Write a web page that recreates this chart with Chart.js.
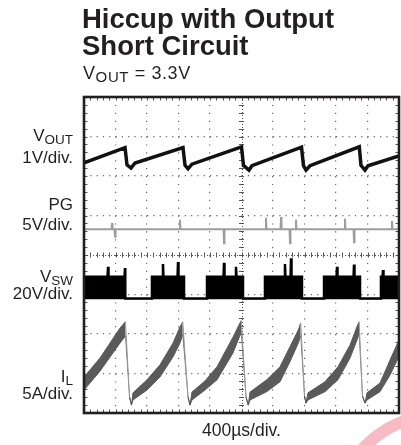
<!DOCTYPE html>
<html>
<head>
<meta charset="utf-8">
<script src="https://cdn.jsdelivr.net/npm/chart.js@4"></script>
<style>
  body { margin: 0; background: #fff; }
  #wrap { position: relative; width: 401px; height: 445px; overflow: hidden;
          font-family: "Liberation Sans", Arial, sans-serif; color: #231f20; }
  #scope { position: absolute; left: 0; top: 0; }
  .title { position: absolute; left: 82px; top: 5px; font-size: 27.5px; font-weight: bold;
           line-height: 27px; white-space: nowrap; }
  .sub { position: absolute; left: 83px; top: 63px; font-size: 18px; line-height: 20px;
         letter-spacing: 0.6px; white-space: nowrap; }
  .lbl { position: absolute; right: 328px; text-align: right; font-size: 17px; line-height: 20px; white-space: nowrap; }
  .lbl span { font-size: 13.5px; position: relative; top: 3px; }
  .sub span { font-size: 15px; position: relative; top: 3px; }
</style>
</head>
<body>
<div id="wrap">
  <canvas id="scope" width="401" height="445"></canvas>
  <div class="title">Hiccup with Output<br>Short Circuit</div>
  <div class="sub">V<span>OUT</span> = 3.3V</div>
  <div class="lbl" style="top:125.6px">V<span>OUT</span></div>
  <div class="lbl" style="top:147.6px">1V/div.</div>
  <div class="lbl" style="top:195.1px">PG</div>
  <div class="lbl" style="top:215.1px">5V/div.</div>
  <div class="lbl" style="top:267.1px">V<span>SW</span></div>
  <div class="lbl" style="top:283.6px">20V/div.</div>
  <div class="lbl" style="top:367.4px">I<span>L</span></div>
  <div class="lbl" style="top:383.6px">5A/div.</div>
</div>
<script>
// time in µs (10 div x 400µs), levels in screen divisions (0 = bottom, 8 = top)

// VOUT - hiccup sawtooth
const voutTime = [0, 521, 546, 597, 648, 1257, 1283, 1321, 1371, 2000, 2025, 2095, 2133,
  2762, 2787, 2819, 2870, 3496, 3517, 3568, 3606, 4000];
const voutLevel = [6.33, 6.72, 6.28, 6.20, 6.33, 6.72, 6.27, 6.18, 6.30, 6.74, 6.27, 6.15, 6.26,
  6.73, 6.26, 6.15, 6.26, 6.74, 6.27, 6.15, 6.26, 6.51];

// PG - flat with glitches
const pgTime = [0, 350, 356, 362, 388, 394, 400, 1213, 1219, 1225, 1772, 1778, 1784,
  2305, 2311, 2317, 2496, 2502, 2508, 2610, 2616, 2622, 2686, 2692, 2698,
  3308, 3314, 3320, 3423, 3429, 3435, 3905, 3911, 3917, 4000];
const pgLevel = [4.65, 4.65, 4.81, 4.65, 4.65, 4.46, 4.65, 4.65, 4.89, 4.65, 4.65, 4.30, 4.65,
  4.65, 4.94, 4.65, 4.65, 4.96, 4.65, 4.65, 4.30, 4.65, 4.65, 4.89, 4.65,
  4.65, 4.92, 4.65, 4.65, 4.32, 4.65, 4.65, 4.86, 4.65, 4.65];

// VSW - switching bursts (envelope)
const vswTime = [0, 299, 305, 311, 515, 521, 524, 863, 863, 997, 1003, 1009, 1188, 1194, 1200,
  1270, 1270, 1562, 1562, 1772, 1778, 1784, 1924, 1930, 1936, 2019, 2019,
  2298, 2298, 2546, 2552, 2558, 2623, 2629, 2635, 2768, 2768,
  3048, 3048, 3207, 3213, 3219, 3423, 3429, 3435, 3505, 3505,
  3771, 3771, 3791, 3797, 3803, 4000];
const vswLevel = [3.45, 3.45, 3.70, 3.45, 3.45, 3.67, 2.90, 2.90, 3.45, 3.45, 3.77, 3.45, 3.45, 3.82, 3.45,
  3.45, 2.90, 2.90, 3.45, 3.45, 3.80, 3.45, 3.45, 3.70, 3.45, 3.45, 2.90,
  2.90, 3.45, 3.45, 3.77, 3.45, 3.45, 3.92, 3.45, 3.45, 2.90,
  2.90, 3.45, 3.45, 3.70, 3.45, 3.45, 3.76, 3.45, 3.45, 2.90,
  2.90, 3.45, 3.45, 3.62, 3.45, 3.45];
const vswBase = 2.88;

// IL - inductor current band (upper / lower edge)
const ilTime = [0, 203, 457, 526, 578, 603, 622, 800, 965, 1130, 1219, 1254,
  1321, 1346, 1371, 1536, 1689, 1892, 1968, 1997,
  2057, 2086, 2108, 2320, 2489, 2616, 2721, 2752,
  2800, 2819, 2844, 3060, 3225, 3378, 3467, 3494,
  3536, 3568, 3594, 3759, 3886, 4000];
const ilHigh = [0.91, 1.39, 2.15, 2.31, 0.41, 0.20, 0.51, 0.84, 1.22, 1.77, 2.18, 2.31,
  0.41, 0.20, 0.53, 0.81, 1.17, 1.92, 2.23, 2.34,
  0.41, 0.20, 0.53, 0.84, 1.17, 1.68, 2.10, 2.28,
  0.43, 0.25, 0.51, 0.79, 1.17, 1.72, 2.19, 2.31,
  0.43, 0.25, 0.51, 0.76, 1.34, 1.85];
const ilLow = [0.58, 1.06, 1.77, 1.95, 0.41, 0.20, 0.33, 0.58, 0.91, 1.42, 1.77, 1.98,
  0.41, 0.20, 0.33, 0.58, 0.84, 1.52, 1.90, 2.03,
  0.41, 0.20, 0.33, 0.54, 0.79, 1.30, 1.77, 1.95,
  0.43, 0.25, 0.33, 0.54, 0.84, 1.39, 1.85, 2.00,
  0.43, 0.25, 0.33, 0.54, 0.96, 1.43];

function pts(xs, ys) {
  return xs.map((t, i) => ({ x: t, y: ys[i] }));
}

// falling edges of IL are a thin light trace
const dropColor = ctx => (ctx.p1.parsed.y < ctx.p0.parsed.y - 0.3 ? "#9a9a9a" : undefined);

const scopeFrame = {
  id: "scopeFrame",
  beforeDraw(chart) {
    // pale logo swoosh, bottom right
    const ctx = chart.ctx;
    ctx.save();
    ctx.strokeStyle = "#f7bcc3";
    ctx.lineWidth = 12;
    ctx.beginPath();
    ctx.arc(440, 520, 105, Math.PI * 1.05, Math.PI * 1.5);
    ctx.stroke();
    ctx.restore();
  },
  beforeDatasetsDraw(chart) {
    const { ctx, chartArea: a, scales: { x, y } } = chart;
    const cx = x.getPixelForValue(2000);
    const cy = y.getPixelForValue(4);
    ctx.save();
    ctx.strokeStyle = "#555";
    ctx.lineWidth = 1;
    ctx.setLineDash([1, 2]);
    ctx.beginPath();
    ctx.moveTo(Math.round(cx) + 0.5, a.top);
    ctx.lineTo(Math.round(cx) + 0.5, a.bottom);
    ctx.moveTo(a.left, Math.round(cy) + 0.5);
    ctx.lineTo(a.right, Math.round(cy) + 0.5);
    ctx.stroke();
    ctx.setLineDash([]);
    ctx.beginPath();
    for (let t = 0; t <= 4000; t += 80) {
      const px = Math.round(x.getPixelForValue(t)) + 0.5;
      ctx.moveTo(px, cy - 2.5); ctx.lineTo(px, cy + 2.5);
      ctx.moveTo(px, a.top); ctx.lineTo(px, a.top + 3.5);
      ctx.moveTo(px, a.bottom); ctx.lineTo(px, a.bottom - 3.5);
    }
    for (let k = 0; k <= 40; k++) {
      const py = Math.round(y.getPixelForValue(k / 5)) + 0.5;
      ctx.moveTo(cx - 2.5, py); ctx.lineTo(cx + 2.5, py);
      ctx.moveTo(a.left, py); ctx.lineTo(a.left + 3.5, py);
      ctx.moveTo(a.right, py); ctx.lineTo(a.right - 3.5, py);
    }
    ctx.stroke();
    ctx.restore();
  },
  afterDatasetsDraw(chart) {
    const { ctx, chartArea: a } = chart;
    ctx.save();
    ctx.strokeStyle = "#231f20";
    ctx.lineWidth = 2.6;
    ctx.strokeRect(a.left, a.top, a.right - a.left, a.bottom - a.top);
    ctx.restore();
  },
};

const ctx = document.getElementById("scope");

new Chart(ctx, {
  type: "line",
  data: {
    datasets: [
      {
        label: "VOUT",
        data: pts(voutTime, voutLevel),
        borderColor: "#111",
        borderWidth: 3.5,
      },
      {
        label: "PG",
        data: pts(pgTime, pgLevel),
        borderColor: "#9d9d9d",
        borderWidth: 2,
      },
      {
        label: "VSW",
        data: pts(vswTime, vswLevel),
        borderColor: "#000",
        borderWidth: 2.5,
        backgroundColor: "#000",
        fill: { value: vswBase },
      },
      {
        label: "IL",
        data: pts(ilTime, ilHigh),
        borderColor: "#5a5a5a",
        borderWidth: 1,
        backgroundColor: "#5a5a5a",
        fill: "+1",
        segment: { borderColor: dropColor },
      },
      {
        label: "IL low",
        data: pts(ilTime, ilLow),
        borderColor: "#5a5a5a",
        borderWidth: 1,
        fill: false,
        segment: { borderColor: dropColor },
      },
    ],
  },
  options: {
    responsive: false,
    animation: false,
    events: [],
    layout: { padding: { left: 84, right: 2, top: 97, bottom: 3 } },
    elements: { point: { radius: 0 }, line: { tension: 0 } },
    plugins: {
      legend: { display: false },
      tooltip: { enabled: false },
      title: { display: false },
    },
    scales: {
      x: {
        type: "linear",
        min: 0,
        max: 4000,
        ticks: { display: false, stepSize: 400 },
        grid: {
          drawTicks: false,
          lineWidth: 1.2,
          color: c => ([0, 2000, 4000].includes(c.tick.value) ? "transparent" : "#666"),
        },
        border: { display: false, dash: [1.2, 6.7] },
        title: {
          display: true,
          text: "400µs/div.",
          color: "#231f20",
          font: { family: "'Liberation Sans', Arial, sans-serif", size: 17.5 },
          padding: { top: 8, bottom: 0 },
        },
      },
      y: {
        type: "linear",
        min: 0,
        max: 8,
        ticks: { display: false, stepSize: 1 },
        grid: {
          drawTicks: false,
          lineWidth: 1.2,
          color: c => ([0, 4, 8].includes(c.tick.value) ? "transparent" : "#666"),
        },
        border: { display: false, dash: [1.2, 5.1] },
      },
    },
  },
  plugins: [scopeFrame],
});
</script>
</body>
</html>
